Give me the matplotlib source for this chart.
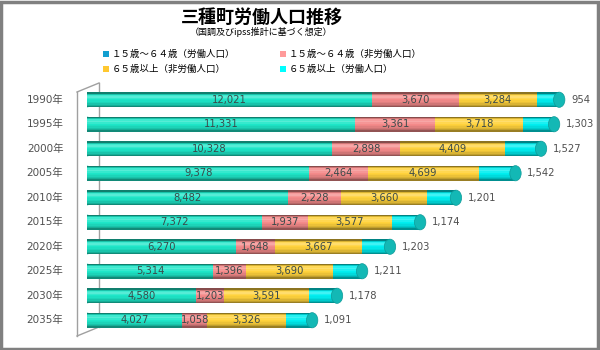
import numpy as np
import matplotlib.pyplot as plt
from matplotlib.patches import Ellipse, Rectangle
from matplotlib.lines import Line2D
from matplotlib.colors import to_rgb

plt.rcParams['font.family'] = ['DejaVu Sans', 'Noto Sans CJK JP']

years = ['1990年', '1995年', '2000年', '2005年', '2010年',
         '2015年', '2020年', '2025年', '2030年', '2035年']
work_1564 = [12021, 11331, 10328, 9378, 8482, 7372, 6270, 5314, 4580, 4027]
nonwork_1564 = [3670, 3361, 2898, 2464, 2228, 1937, 1648, 1396, 1203, 1058]
nonwork_65 = [3284, 3718, 4409, 4699, 3660, 3577, 3667, 3690, 3591, 3326]
work_65 = [954, 1303, 1527, 1542, 1201, 1174, 1203, 1211, 1178, 1091]

names = ['１５歳～６４歳（労働人口）', '１５歳～６４歳（非労働人口）',
         '６５歳以上（非労働人口）', '６５歳以上（労働人口）']
colors = ['#1ee6c8', '#f48a8a', '#ffd23c', '#00eef0']
swatch = ['#139fd0', '#ff9a9a', '#ffc830', '#00ffff']

series = [work_1564, nonwork_1564, nonwork_65, work_65]

fig = plt.figure(figsize=(6, 3.5), dpi=100)
fig.add_artist(Rectangle((0.002, 0.003), 0.994, 0.992, transform=fig.transFigure,
                         fill=False, edgecolor='#808080', linewidth=2.5))

ax = fig.add_axes([0.145, 0.043, 0.838, 0.714])
ax.set_xlim(0, 21220)
ax.set_ylim(9.6, -0.6)
ax.axis('off')

h = 0.62
profile = [0.55, 0.85, 1.15, 1.25, 1.1, 1.0, 0.97, 0.92, 0.85, 0.75, 0.6]
n = len(profile)


def shade(c, f):
    r = np.array(to_rgb(c))
    if f >= 1:
        return tuple(r + (1 - r) * (f - 1))
    return tuple(r * f)


ew = 480
for i in range(len(years)):
    left = 0
    # rounded back end at left
    ax.add_patch(Ellipse((0, i), ew, h, facecolor=shade(colors[0], 0.9),
                         edgecolor='none', zorder=1))
    for s, vals in enumerate(series):
        v = vals[i]
        for k, f in enumerate(profile):
            y0 = i - h / 2 + k * h / n
            ax.barh(y0, v, left=left, height=h / n, align='edge',
                    color=shade(colors[s], f), edgecolor='none', zorder=2)
        if s < 3:
            ax.text(left + v / 2, i, f'{v:,}', ha='center', va='center',
                    fontsize=7.2, color='#3a4a4a', zorder=5)
        left += v
    ax.add_patch(Ellipse((left, i), ew, h, facecolor='#13b8b5',
                         edgecolor='#0e9a98', linewidth=0.5, zorder=3))
    ax.text(left + 500, i, f'{work_65[i]:,}', ha='left', va='center',
            fontsize=7.2, color='#505050')
    ax.text(-1000, i, years[i], ha='right', va='center', fontsize=7.5,
            color='#505050')

# back wall lines
for xy in [((77, 92), (99, 83)), ((77, 92), (77, 336)),
           ((77, 336), (99, 327)), ((99, 83), (99, 327))]:
    (x0, y0), (x1, y1) = xy
    fig.add_artist(Line2D([x0 / 600, x1 / 600], [1 - y0 / 350, 1 - y1 / 350],
                          transform=fig.transFigure, color='#a0a0a0',
                          linewidth=1, zorder=0))

fig.text(0.437, 0.949, '三種町労働人口推移', ha='center', va='center',
         fontsize=13, fontweight='bold', family='Noto Sans CJK JP')
fig.text(0.435, 0.909, '（国調及びipss推計に基づく想定）', ha='center', va='center',
         fontsize=6.5, family='Noto Sans CJK JP')

pos = [(103, 54), (280, 54), (103, 69), (280, 69)]
for (px, py), nm, c in zip(pos, names, swatch):
    fig.add_artist(Rectangle((px / 600, 1 - (py + 3) / 350), 6 / 600, 6 / 350,
                             transform=fig.transFigure, facecolor=c,
                             edgecolor='none'))
    fig.text((px + 9) / 600, 1 - py / 350, nm, ha='left', va='center',
             fontsize=6.8, family='Noto Sans CJK JP')

fig.savefig('out.png', dpi=100)
